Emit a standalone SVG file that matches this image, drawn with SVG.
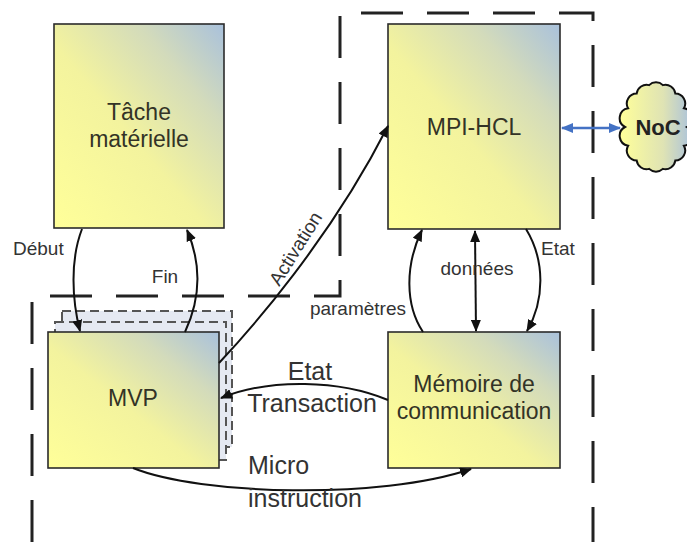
<svg xmlns="http://www.w3.org/2000/svg" width="687" height="542" viewBox="0 0 687 542">
<style>
.box{stroke:#2b2b2b;stroke-width:1.6;fill:url(#g)}
.bt{font-family:"Liberation Sans",Arial,sans-serif;font-size:23px;fill:#333326;text-anchor:middle}
.lb{font-family:"Liberation Sans",Arial,sans-serif;font-size:19px;fill:#333}
.lb2{font-family:"Liberation Sans",Arial,sans-serif;font-size:25px;fill:#333}
.c{fill:none;stroke:#111;stroke-width:2}
.bound{fill:none;stroke:#222;stroke-width:3;stroke-dasharray:42 24}
.stack{fill:#e5e9f2;stroke:#555;stroke-width:2;stroke-dasharray:9 5}
</style>
<defs>
<linearGradient id="g" x1="0" y1="1" x2="1" y2="0">
<stop offset="0" stop-color="#ffff99"/>
<stop offset="0.45" stop-color="#f3f39e"/>
<stop offset="0.75" stop-color="#d3dbbb"/>
<stop offset="1" stop-color="#a9c1dc"/>
</linearGradient>
<linearGradient id="gc" x1="0" y1="0" x2="1" y2="0">
<stop offset="0" stop-color="#ffff99"/>
<stop offset="0.6" stop-color="#dfe3b4"/>
<stop offset="1" stop-color="#a9c1dc"/>
</linearGradient>
<marker id="a" viewBox="0 0 12 10" refX="11" refY="5" markerWidth="12" markerHeight="10" markerUnits="userSpaceOnUse" orient="auto-start-reverse">
<path d="M0,0 L12,5 L0,10 z" fill="#111"/>
</marker>
<marker id="ab" viewBox="0 0 12 10" refX="11" refY="5" markerWidth="12" markerHeight="10" markerUnits="userSpaceOnUse" orient="auto-start-reverse">
<path d="M0,0 L12,5 L0,10 z" fill="#4472c4"/>
</marker>
</defs>
<rect width="687" height="542" fill="#fff"/>
<path class="bound" d="M32,542 L32,296 L340,296 L340,13 L593,13 L593,542"/>
<g id="tache">
<rect class="box" x="54" y="24" width="170" height="204"/>
<text class="bt" x="139" y="120">Tâche</text>
<text class="bt" x="139" y="147">matérielle</text>
</g>
<g id="mpi-hcl">
<rect class="box" x="388" y="24" width="172" height="205"/>
<text class="bt" x="474" y="135">MPI-HCL</text>
</g>
<g id="mvp">
<rect class="stack" x="62" y="311" width="170" height="136"/>
<rect class="stack" x="55" y="322" width="171" height="138"/>
<rect class="box" x="48" y="332" width="171" height="136"/>
<text class="bt" x="133" y="406">MVP</text>
</g>
<g id="memoire">
<rect class="box" x="388" y="332" width="172" height="136"/>
<text class="bt" x="474" y="392">Mémoire de</text>
<text class="bt" x="474" y="419">communication</text>
</g>
<g id="noc">
<path d="M687,127 A10,10 0 0 1 683.9,145.7 A10,10 0 0 1 675.3,160.6 A10,10 0 0 1 662.9,168.9 A10,10 0 0 1 649.1,168.9 A10,10 0 0 1 636.7,160.6 A10,10 0 0 1 628.1,145.7 A10,10 0 0 1 625,127 A10,10 0 0 1 628.1,108.3 A10,10 0 0 1 636.7,93.4 A10,10 0 0 1 649.1,85.1 A10,10 0 0 1 662.9,85.1 A10,10 0 0 1 675.3,93.4 A10,10 0 0 1 683.9,108.3 A10,10 0 0 1 687,127 Z" fill="url(#gc)" stroke="#111" stroke-width="2"/>
<text x="658" y="135" font-family="Liberation Sans,Arial,sans-serif" font-size="22" font-weight="bold" fill="#222" text-anchor="middle">NoC</text>
</g>
<g id="connectors">
<path class="c" d="M82,229 C70,260 72,300 80,331" marker-end="url(#a)"/>
<path class="c" d="M185,332 C200,300 202,265 187,230" marker-end="url(#a)"/>
<path class="c" d="M219,363 C250,330 330,240 388,126" marker-end="url(#a)"/>
<path class="c" d="M388,400 C340,380 270,378 221,398" marker-end="url(#a)"/>
<path class="c" d="M133,468 C200,495 380,500 471,469" marker-end="url(#a)"/>
<path class="c" d="M423,332 C405,305 405,265 422,230" marker-end="url(#a)"/>
<path class="c" d="M475,231 L476,331" marker-start="url(#a)" marker-end="url(#a)"/>
<path class="c" d="M526,229 C545,260 545,300 527,331" marker-end="url(#a)"/>
<path d="M562,128 L620,128" fill="none" stroke="#4472c4" stroke-width="2.5" marker-start="url(#ab)" marker-end="url(#ab)"/>
</g>
<g id="labels">
<text class="lb" x="13" y="255">Début</text>
<text class="lb" x="165" y="283" text-anchor="middle">Fin</text>
<text class="lb" x="301" y="252" text-anchor="middle" transform="rotate(-58 301 252)">Activation</text>
<text class="lb" x="406" y="315" text-anchor="end">paramètres</text>
<text class="lb" x="477" y="275" text-anchor="middle">données</text>
<text class="lb" x="541" y="255">Etat</text>
<text class="lb2" x="310" y="380" text-anchor="middle">Etat</text>
<text class="lb2" x="312" y="412" text-anchor="middle">Transaction</text>
<text class="lb2" x="248" y="474">Micro</text>
<text class="lb2" x="248" y="507">instruction</text>
</g>
</svg>
